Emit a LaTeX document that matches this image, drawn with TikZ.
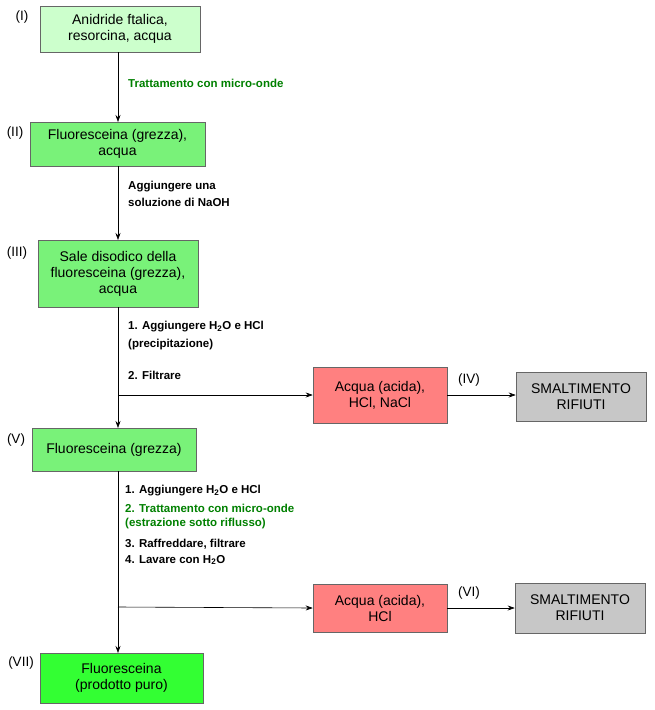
\documentclass[tikz,border=0pt]{standalone}
\usepackage{fontspec}
\setmainfont{Liberation Sans}
\usetikzlibrary{arrows.meta}
\usetikzlibrary{positioning}

\begin{document}
\begin{tikzpicture}[x=1pt,y=-1pt,
        box/.style={draw=black!60,line width=0.6pt,align=center,inner sep=0pt,
            font=\fontsize{14}{16}\selectfont},
        start/.style={box,fill=green!20},
        mid/.style={box,fill=green!50!white!95!black},
        final/.style={box,fill=green!80!white},
        waste/.style={box,fill=red!50},
        dump/.style={box,fill=black!22},
        instr/.style={font=\fontsize{11.5}{14}\selectfont\bfseries,anchor=west,inner sep=0pt},
        mw/.style={instr,text=green!50!black},
        tag/.style={font=\fontsize{13.5}{16}\selectfont,inner sep=0pt},
        arr/.style={-{Stealth[length=7pt,width=5pt]},line width=0.6pt}]

    \useasboundingbox (0,0) rectangle (655,710);

    % boxes
    \node[start,minimum width=160,minimum height=46] (s1) at (120,29) {Anidride ftalica,\\resorcina, acqua};
    \node[mid,minimum width=175,minimum height=44] (s2) at (117.5,144) {Fluoresceina (grezza),\\acqua};
    \node[mid,minimum width=160,minimum height=67] (s3) at (118,273.5) {Sale disodico della\\fluoresceina (grezza),\\acqua};
    \node[mid,minimum width=164,minimum height=43] (s5) at (114,449.5) {Fluoresceina (grezza)};
    \node[final,minimum width=163,minimum height=50] (s7) at (121.5,678) {Fluoresceina\\(prodotto puro)};
    \node[waste,minimum width=134,minimum height=56] (w4) at (380,395) {Acqua (acida),\\HCl, NaCl};
    \node[waste,minimum width=134,minimum height=48] (w6) at (380,608) {Acqua (acida),\\HCl};
    \node[dump,minimum width=130,minimum height=49] (d4) at (581,396.5) {SMALTIMENTO\\RIFIUTI};
    \node[dump,minimum width=130,minimum height=50] (d6) at (580,608) {SMALTIMENTO\\RIFIUTI};

    % tags
    \node[tag] (t1) at (22,17) {(I)};
    \node[tag] (t2) at (15,133) {(II)};
    \node[tag] (t3) at (17,253) {(III)};
    \node[tag] (t4) at (469,380) {(IV)};
    \node[tag] (t5) at (16,440) {(V)};
    \node[tag] (t6) at (469,593) {(VI)};
    \node[tag] (t7) at (21,663) {(VII)};

    % flow
    \coordinate (a1) at (118,52);
    \coordinate (a2) at (118,122);
    \coordinate (b1) at (118,166);
    \coordinate (b2) at (118,240);
    \coordinate (c1) at (118,307);
    \coordinate (c2) at (118,395);
    \coordinate (c3) at (118,428);
    \coordinate (e1) at (118,471);
    \coordinate (e2) at (118,607);
    \coordinate (e3) at (118,653);
    \draw[arr] (a1) -- (a2);
    \draw[arr] (b1) -- (b2);
    \draw[arr] (c1) -- (c3);
    \draw[arr] (c2) -- (w4.west);
    \draw[arr] (w4.east) -- (d4.west |- w4.east);
    \draw[arr] (e1) -- (e3);
    \draw[arr] (e2) -- (w6.west);
    \draw[arr] (w6.east) -- (d6.west);

    % steps
    \node[mw] (l1) at (128,83) {Trattamento con micro-onde};
    \node[instr] (l2) at (128,187) {Aggiungere una};
    \node[instr] (l3) at (128,202) {soluzione di NaOH};
    \node[instr] (l4) at (128,327) {1. Aggiungere H\textsubscript{2}O e HCl};
    \node[instr] (l5) at (128,345) {(precipitazione)};
    \node[instr] (l6) at (128,375) {2. Filtrare};
    \node[instr] (l7) at (125,491) {1. Aggiungere H\textsubscript{2}O e HCl};
    \node[mw] (l8) at (125,508) {2. Trattamento con micro-onde};
    \node[mw] (l9) at (125,524) {(estrazione sotto riflusso)};
    \node[instr] (l10) at (125,544) {3. Raffreddare, filtrare};
    \node[instr] (l11) at (125,560) {4. Lavare con H\textsubscript{2}O};
\end{tikzpicture}
\end{document}
